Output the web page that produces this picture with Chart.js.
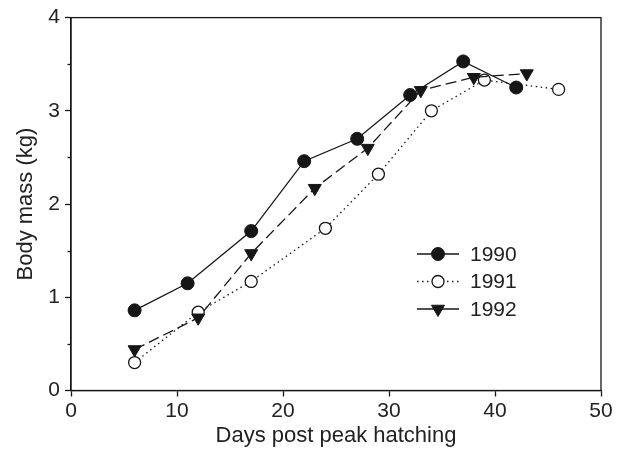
<!DOCTYPE html>
<html>
<head>
<meta charset="utf-8">
<script src="https://cdn.jsdelivr.net/npm/chart.js@4.4.1/dist/chart.umd.min.js"></script>
<style>
    html, body { margin: 0; padding: 0; background: #fff; }
    #wrap { width: 620px; height: 449px; }
</style>
</head>
<body>
<div id="wrap"><canvas id="massChart" width="620" height="449"></canvas></div>
<script>
// Данни, отчетени от графиката
const days1990 = [6, 11, 17, 22, 27, 32, 37, 42];
const mass1990 = [0.86, 1.15, 1.71, 2.46, 2.70, 3.17, 3.53, 3.25];

const days1991 = [6, 12, 17, 24, 29, 34, 39, 46];
const mass1991 = [0.30, 0.84, 1.17, 1.74, 2.32, 3.00, 3.33, 3.23];

const days1992 = [6, 12, 17, 23, 28, 33, 38, 43];
const mass1992 = [0.44, 0.78, 1.47, 2.17, 2.60, 3.22, 3.36, 3.40];

const seriesLabels = ['1990', '1991', '1992'];
const minorTicksY = [0.5, 1.5, 2.5, 3.5];

const ink = '#161616';
const fontFamily = '"Liberation Sans", Arial, sans-serif';

function toPoints(xs, ys) {
    return xs.map((x, i) => ({ x: x, y: ys[i] }));
}

// Рамка около графиката, малки чертички по Y и легенда вътре в полето
const framePlugin = {
    id: 'frame',
    afterDraw(chart) {
        const ctx = chart.ctx;
        const area = chart.chartArea;
        const yScale = chart.scales.y;
        ctx.save();
        ctx.strokeStyle = ink;
        ctx.lineWidth = 1.3;
        ctx.strokeRect(area.left, area.top, area.right - area.left, area.bottom - area.top);

        // малки чертички
        minorTicksY.forEach(v => {
            const py = Math.round(yScale.getPixelForValue(v)) + 0.5;
            ctx.beginPath();
            ctx.moveTo(area.left - 3.5, py);
            ctx.lineTo(area.left, py);
            ctx.stroke();
        });

        // легенда
        const legendX = 417;
        const legendY = [254, 281.5, 309];
        chart.data.datasets.forEach((ds, i) => {
            const y = legendY[i];
            ctx.strokeStyle = ink;
            ctx.lineWidth = 1.3;
            ctx.setLineDash(i === 1 ? ds.borderDash : []);
            ctx.beginPath();
            ctx.moveTo(legendX, y);
            ctx.lineTo(legendX + 42, y);
            ctx.stroke();
            ctx.setLineDash([]);
            ctx.fillStyle = ds.pointBackgroundColor;
            ctx.strokeStyle = ink;
            ctx.lineWidth = ds.pointBorderWidth;
            Chart.helpers.drawPoint(ctx, {
                pointStyle: ds.pointStyle,
                rotation: ds.pointRotation || 0,
                radius: ds.pointRadius,
                borderWidth: ds.pointBorderWidth
            }, legendX + 21, y);
            ctx.fillStyle = '#222';
            ctx.font = '21px ' + fontFamily;
            ctx.textBaseline = 'middle';
            ctx.textAlign = 'left';
            ctx.fillText(ds.label, legendX + 53, y + 1);
        });
        ctx.restore();
    }
};

const canvas = document.getElementById('massChart');

new Chart(canvas, {
    type: 'line',
    data: {
        datasets: [
            {
                label: seriesLabels[0],
                data: toPoints(days1990, mass1990),
                borderColor: ink,
                borderWidth: 1.3,
                pointStyle: 'circle',
                pointRadius: 6.5,
                pointBackgroundColor: ink,
                pointBorderColor: ink,
                pointBorderWidth: 1,
                order: 3
            },
            {
                label: seriesLabels[1],
                data: toPoints(days1991, mass1991),
                borderColor: ink,
                borderWidth: 1.3,
                borderDash: [1.5, 3.5],
                pointStyle: 'circle',
                pointRadius: 6,
                pointBackgroundColor: '#ffffff',
                pointBorderColor: ink,
                pointBorderWidth: 1.3,
                order: 2
            },
            {
                label: seriesLabels[2],
                data: toPoints(days1992, mass1992),
                borderColor: ink,
                borderWidth: 1.3,
                borderDash: [11, 5],
                pointStyle: 'triangle',
                pointRotation: 180,
                pointRadius: 7.5,
                pointBackgroundColor: ink,
                pointBorderColor: ink,
                pointBorderWidth: 1,
                order: 1
            }
        ]
    },
    options: {
        animation: false,
        responsive: false,
        events: [],
        layout: {
            padding: { left: 0, right: 19, top: 16, bottom: 0 }
        },
        scales: {
            x: {
                type: 'linear',
                min: 0,
                max: 50,
                ticks: {
                    stepSize: 10,
                    color: '#222',
                    padding: 2,
                    maxRotation: 0,
                    font: { family: fontFamily, size: 21 }
                },
                grid: {
                    drawOnChartArea: false,
                    drawTicks: true,
                    tickLength: 6,
                    tickColor: ink,
                    tickWidth: 1.3
                },
                border: { display: true, color: ink, width: 1.3 },
                title: {
                    display: true,
                    text: 'Days post peak hatching',
                    color: '#222',
                    padding: { top: 0, bottom: 0 },
                    font: { family: fontFamily, size: 22 }
                },
                afterFit(scale) { scale.height = 58.5; }
            },
            y: {
                type: 'linear',
                min: 0,
                max: 4,
                ticks: {
                    stepSize: 1,
                    color: '#222',
                    padding: 5,
                    font: { family: fontFamily, size: 21 }
                },
                grid: {
                    drawOnChartArea: false,
                    drawTicks: true,
                    tickLength: 6,
                    tickColor: ink,
                    tickWidth: 1.3
                },
                border: { display: true, color: ink, width: 1.3 },
                title: {
                    display: true,
                    text: 'Body mass (kg)',
                    color: '#222',
                    padding: { top: 13, bottom: 0 },
                    font: { family: fontFamily, size: 22 }
                },
                afterFit(scale) { scale.width = 71; }
            }
        },
        plugins: {
            legend: { display: false },
            tooltip: { enabled: false }
        }
    },
    plugins: [framePlugin]
});
</script>
</body>
</html>
